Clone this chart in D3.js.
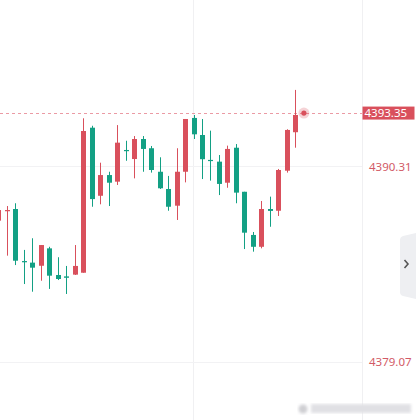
<!DOCTYPE html>
<html>
<head>
<meta charset="utf-8">
<script src="https://cdn.jsdelivr.net/npm/d3@7"></script>
<style>
  html, body { margin: 0; padding: 0; background: #fff; }
  svg { display: block; }
  .axis-label { font-family: "Noto Sans", "DejaVu Sans", sans-serif; font-size: 11.5px; }
</style>
</head>
<body>
<div id="chart"></div>
<script>
// candles, oldest first (red = up, green = down)
var opens  = [4387.17, 4387.73, 4387.84, 4384.85, 4384.76, 4384.58, 4385.58, 4384.05, 4383.97, 4384.07,
              4384.18, 4392.51, 4388.60, 4389.79, 4389.41, 4391.23, 4390.71, 4391.86, 4391.33, 4389.98,
              4388.99, 4388.03, 4389.98, 4393.07, 4392.09, 4390.66, 4390.56, 4389.35, 4391.36, 4388.83,
              4386.35, 4385.67, 4387.84, 4387.74, 4390.04, 4392.25, 4393.35]
var highs  = [4387.95, 4388.01, 4388.17, 4385.49, 4386.16, 4385.77, 4385.67, 4385.07, 4384.57, 4385.77,
              4393.05, 4392.62, 4390.50, 4389.98, 4392.66, 4391.76, 4392.03, 4392.03, 4391.46, 4390.81,
              4389.74, 4391.33, 4393.01, 4393.24, 4393.01, 4392.34, 4390.94, 4391.48, 4391.57, 4388.83,
              4386.52, 4388.30, 4388.55, 4390.14, 4392.42, 4394.68, 4393.35]
var lows   = [4386.98, 4385.16, 4384.62, 4383.53, 4383.09, 4383.72, 4383.25, 4383.76, 4382.96, 4384.05,
              4384.18, 4387.97, 4388.11, 4388.01, 4389.22, 4390.61, 4389.60, 4389.98, 4389.93, 4388.99,
              4387.74, 4387.21, 4389.37, 4391.86, 4389.56, 4389.47, 4388.64, 4389.06, 4388.17, 4385.54,
              4385.39, 4385.58, 4386.82, 4387.44, 4389.93, 4391.36, 4393.35]
var closes = [4387.78, 4387.78, 4384.87, 4384.78, 4384.47, 4385.77, 4384.01, 4383.82, 4383.89, 4384.57,
              4392.32, 4388.41, 4389.79, 4389.35, 4391.65, 4391.19, 4391.86, 4391.29, 4390.08, 4389.03,
              4387.97, 4389.98, 4393.01, 4392.13, 4390.70, 4390.60, 4389.28, 4391.29, 4388.78, 4386.48,
              4385.67, 4387.84, 4387.73, 4390.08, 4392.38, 4393.24, 4393.35]

var priceTicks = [4390.31, 4379.07]
var lastPrice = 4393.35

var width = 416, height = 420
var plotRight = 362
var red = "#d9505c", green = "#13a084"

var svg = d3.select("#chart").append("svg")
    .attr("width", width)
    .attr("height", height)

var x = d3.scaleLinear().domain([0, opens.length - 1]).range([-1.8, 303.9])
var y = d3.scaleLinear().domain([priceTicks[1], priceTicks[0]]).range([361.7, 166])

// grid
svg.append("line")
    .attr("x1", 193.5).attr("x2", 193.5).attr("y1", 0).attr("y2", height)
    .attr("stroke", "#f0f0f2")
svg.append("line")
    .attr("x1", plotRight + 0.5).attr("x2", plotRight + 0.5).attr("y1", 0).attr("y2", height)
    .attr("stroke", "#f0f0f2")
svg.selectAll("line.hgrid")
    .data(priceTicks)
    .enter().append("line")
    .attr("class", "hgrid")
    .attr("x1", 0).attr("x2", plotRight)
    .attr("y1", d => Math.round(y(d)) + 0.5)
    .attr("y2", d => Math.round(y(d)) + 0.5)
    .attr("stroke", "#f2f2f4")

// last price dashed line
svg.append("line")
    .attr("x1", 0).attr("x2", plotRight)
    .attr("y1", Math.round(y(lastPrice)) + 0.5)
    .attr("y2", Math.round(y(lastPrice)) + 0.5)
    .attr("stroke", "#eb9aa4")
    .attr("stroke-dasharray", "3,3")

var candles = d3.range(opens.length - 1).map(function(i){
  return { i: i, o: opens[i], h: highs[i], l: lows[i], c: closes[i] }
})

var g = svg.append("g").attr("class", "candles")
var groups = g.selectAll("g.candle")
    .data(candles)
    .enter().append("g")
    .attr("class", "candle")
    .attr("fill", d => d.c >= d.o ? red : green)
    .attr("stroke", d => d.c >= d.o ? red : green)

// wick
groups.append("line")
    .attr("x1", d => Math.round(x(d.i)) + 0.5)
    .attr("x2", d => Math.round(x(d.i)) + 0.5)
    .attr("y1", d => y(d.h))
    .attr("y2", d => y(d.l))
    .attr("stroke-width", 1)

// body
groups.append("rect")
    .attr("x", d => Math.round(x(d.i)) - 2)
    .attr("width", 5)
    .attr("y", d => y(Math.max(d.o, d.c)))
    .attr("height", d => Math.max(1.2, Math.abs(y(d.o) - y(d.c))))
    .attr("stroke", "none")

// current price pulse dot
var last = opens.length - 1
svg.append("circle")
    .attr("cx", x(last)).attr("cy", y(closes[last]))
    .attr("r", 5.5)
    .attr("fill", red).attr("opacity", 0.25)
svg.append("circle")
    .attr("cx", x(last)).attr("cy", y(closes[last]))
    .attr("r", 2.6)
    .attr("fill", red)

// price labels
svg.selectAll("text.tick")
    .data(priceTicks)
    .enter().append("text")
    .attr("class", "axis-label tick")
    .attr("x", 369)
    .attr("y", d => y(d) + 1.5)
    .attr("dominant-baseline", "middle")
    .attr("fill", "#d25a66")
    .text(d => d.toFixed(2))

svg.append("rect")
    .attr("x", plotRight + 0.5).attr("y", y(lastPrice) - 6.5)
    .attr("width", 52).attr("height", 13)
    .attr("fill", "#d9505c")
svg.append("text")
    .attr("class", "axis-label")
    .attr("x", 364.5)
    .attr("y", y(lastPrice) + 0.5)
    .attr("dominant-baseline", "middle")
    .attr("fill", "#fff")
    .text(lastPrice.toFixed(2))

// side expand button
svg.append("path")
    .attr("d", "M416,233 L403,236 Q400,237 400,240 L400,292 Q400,295 403,296 L416,299 Z")
    .attr("fill", "#eeeff2")
svg.append("path")
    .attr("d", "M404.5,260 L408,264 L404.5,268")
    .attr("fill", "none")
    .attr("stroke", "#555")
    .attr("stroke-width", 1.6)

// blurred watermark
var blur = svg.append("defs").append("filter").attr("id", "wm")
blur.append("feGaussianBlur").attr("stdDeviation", 1.6)
svg.append("circle")
    .attr("cx", 303).attr("cy", 409).attr("r", 4.5)
    .attr("fill", "#cfcfd3").attr("filter", "url(#wm)")
svg.append("rect")
    .attr("x", 311).attr("y", 404).attr("width", 100).attr("height", 9)
    .attr("fill", "#e0e0e4").attr("filter", "url(#wm)")
</script>
</body>
</html>
